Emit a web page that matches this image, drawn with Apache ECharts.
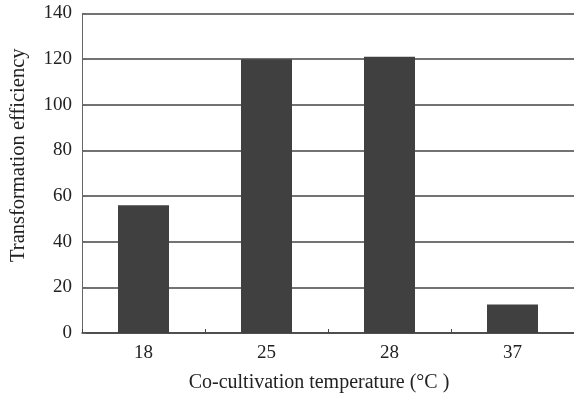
<!DOCTYPE html>
<html>
<head>
<meta charset="utf-8">
<script src="https://cdn.jsdelivr.net/npm/echarts@6/dist/echarts.min.js"></script>
<style>html,body{margin:0;padding:0;background:#fff;}#c{width:574px;height:401px;}</style>
</head>
<body>
<div id="c"></div>
<script>
const categories = ['18', '25', '28', '37'];
const efficiency = [56, 120, 121, 12.5];
const yTicks = [0, 20, 40, 60, 80, 100, 120, 140];

const chart = echarts.init(document.getElementById('c'), null, {renderer: 'canvas'});
const font = '"Liberation Serif", "DejaVu Serif", serif';
chart.setOption({
  animation: false,
  backgroundColor: '#fff',
  grid: {left: 81, right: -5, top: 13.5, bottom: 68, containLabel: false},
  xAxis: {
    type: 'category',
    data: categories,
    name: 'Co-cultivation temperature (°C )',
    nameLocation: 'middle',
    nameGap: 40,
    nameTextStyle: {fontFamily: font, fontSize: 20, color: '#222', padding: [0, 18, 0, 0]},
    axisLine: {lineStyle: {color: '#444', width: 1.5}},
    axisTick: {show: true, length: 4, inside: true, lineStyle: {color: '#444'}},
    axisLabel: {fontFamily: font, fontSize: 19, color: '#222', margin: 11}
  },
  yAxis: {
    type: 'value',
    min: 0, max: 140, interval: 20,
    name: 'Transformation efficiency',
    nameLocation: 'middle',
    nameGap: 53,
    nameTextStyle: {fontFamily: font, fontSize: 20.5, color: '#222', padding: [0, 0, 0, 36]},
    axisLine: {show: true, lineStyle: {color: '#666', width: 1}},
    axisTick: {show: true, length: 4, inside: true, lineStyle: {color: '#666'}},
    axisLabel: {fontFamily: font, fontSize: 19, color: '#222', margin: 10,
      formatter: v => yTicks.includes(v) ? String(v) : ''},
    splitLine: {show: true, lineStyle: {color: '#444', width: 1.5}}
  },
  series: [{
    type: 'bar',
    data: efficiency,
    barWidth: 51,
    itemStyle: {color: '#404040'}
  }]
});
</script>
</body>
</html>
